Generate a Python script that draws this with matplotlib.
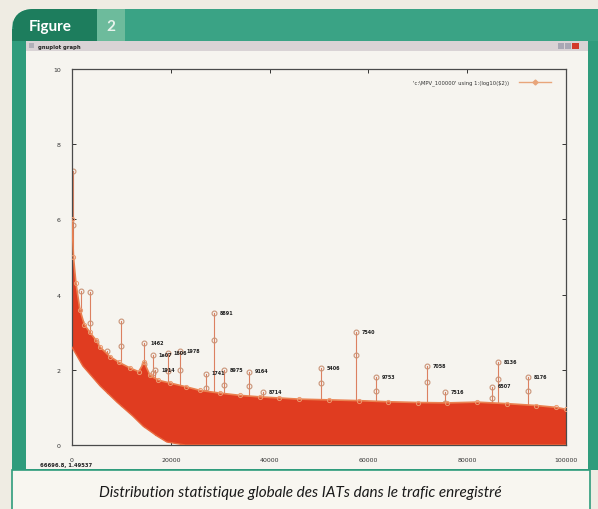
#!/usr/bin/env python

import matplotlib
matplotlib.use("Agg")
import matplotlib.pyplot as plt
from matplotlib.patches import Rectangle, FancyBboxPatch
import numpy as np

# dense band of IAT values (log10)
x_top = [0, 300, 800, 1600, 2500, 3600, 4800, 5700, 7700, 9500, 11700, 13500,
         14600, 15800, 17500, 19800, 23000, 26000, 30000, 34000, 38000, 42000,
         46000, 52000, 58000, 64000, 70000, 76000, 82000, 88000, 94000, 98000, 100000]
y_top = [6.0, 5.0, 4.3, 3.6, 3.2, 3.0, 2.8, 2.6, 2.35, 2.2, 2.05, 1.95,
         2.2, 1.85, 1.72, 1.65, 1.55, 1.45, 1.38, 1.32, 1.28, 1.25,
         1.22, 1.2, 1.18, 1.15, 1.13, 1.12, 1.14, 1.1, 1.05, 1.0, 0.95]
x_low = [0, 2200, 5700, 9100, 12300, 14400, 17200, 19200, 22900, 100000]
y_low = [2.6, 2.1, 1.57, 1.14, 0.77, 0.5, 0.24, 0.08, 0.0, 0.0]

# isolated peaks and their labels
spike_x = [200, 1800, 3600, 4850, 7100, 9900, 14600, 16400, 16900, 19400, 21900,
           27100, 28700, 30800, 35800, 38700, 50400, 57500, 61500, 71900, 75500,
           85000, 86200, 92300]
spike_y = [7.3, 4.1, 4.07, 2.74, 2.5, 3.3, 2.7, 2.4, 2.0, 2.45, 2.5,
           1.9, 3.5, 2.0, 1.95, 1.4, 2.05, 3.0, 1.8, 2.1, 1.4,
           1.55, 2.2, 1.8]
spike_lbl = ["", "", "", "", "", "", "1462", "1e07", "1914", "1606", "1978",
             "1741", "8891", "8975", "9164", "8714", "5406", "7540", "9753", "7058", "7516",
             "6507", "8136", "8176"]

xticks = [0, 20000, 40000, 60000, 80000, 100000]
yticks = [0, 2, 4, 6, 8, 10]

W, H = 598, 510
fig = plt.figure(figsize=(W / 100, H / 100), dpi=100)
fig.patch.set_facecolor("#efece3")

# page decoration in pixel coordinates
bg = fig.add_axes([0, 0, 1, 1])
bg.set_xlim(0, W)
bg.set_ylim(H, 0)
bg.axis("off")

green = "#2f9c7c"
bg.add_patch(FancyBboxPatch((12, 10), 620, 461, boxstyle="round,pad=0,rounding_size=22",
                            fc=green, ec="none"))
bg.add_patch(Rectangle((12, 30), 20, 441, fc=green, ec="none"))
bg.add_patch(FancyBboxPatch((12, 10), 110, 32, boxstyle="round,pad=0,rounding_size=22",
                            fc="#1d7d5d", ec="none"))
bg.add_patch(Rectangle((12, 30), 30, 12, fc="#1d7d5d", ec="none"))
bg.add_patch(Rectangle((97, 10), 28, 32, fc="#6dbb9c", ec="none"))
bg.add_patch(Rectangle((125, 10), 480, 32, fc="#3aa385", ec="none"))
bg.text(50, 27, "Figure", color="white", fontsize=11, ha="center", va="center",
        family="Lato", weight="bold")
bg.text(111, 27, "2", color="#e8f3ec", fontsize=11, ha="center", va="center",
        family="Lato", weight="bold")

# gnuplot window
bg.add_patch(Rectangle((26, 42), 562, 428, fc="#f6f4ef", ec="none"))
bg.add_patch(Rectangle((26, 42), 562, 10, fc="#d9d3d5", ec="none"))
bg.add_patch(Rectangle((29, 44), 5, 5, fc="#b0b0b8", ec="none"))
bg.text(38, 47, "gnuplot graph", fontsize=3.8, weight="bold", va="center", color="#222222")
bg.add_patch(Rectangle((558, 44), 6, 6, fc="#a8a8b4", ec="none"))
bg.add_patch(Rectangle((565, 44), 6, 6, fc="#a8a8b4", ec="none"))
bg.add_patch(Rectangle((572, 44), 7, 6, fc="#d23a2a", ec="none"))
bg.text(40, 466, "66696.8, 1.49537", fontsize=3.8, weight="bold", va="center", color="#222222")

# caption box
bg.add_patch(Rectangle((12, 471), 578, 45, fc="#f8f6f0", ec=green, lw=1.2))
bg.text(300, 493, "Distribution statistique globale des IATs dans le trafic enregistré",
        fontsize=11, style="italic", ha="center", va="center", family="Lato", color="#1a1a1a")

# data axes
ax = fig.add_axes([72 / W, 1 - 446 / H, 494 / W, 376 / H])
ax.set_facecolor("none")
ax.set_xlim(0, 100000)
ax.set_ylim(0, 10)

for sx, sy, lab in zip(spike_x, spike_y, spike_lbl):
    base = np.interp(sx, x_low, y_low)
    ax.plot([sx, sx], [base, sy], color="#dc8060", lw=0.8, zorder=1)
    ax.plot([sx, sx], [sy, sy * 0.8], ls="none", marker="o", ms=3.5,
            mfc="none", mec="#c99478", mew=0.8, zorder=1)
    if lab:
        ax.text(sx + 1200, sy + 0.02, lab, fontsize=3.5, weight="bold",
                va="center", color="#222222", zorder=4)

poly_x = np.concatenate([x_top, x_low[::-1]])
poly_y = np.concatenate([y_top, y_low[::-1]])
ax.fill(poly_x, poly_y, color="#e03c20", lw=0, zorder=2)
ax.plot(x_top, y_top, color="#ea8050", lw=1.2, marker="o", ms=3, mfc="none",
        mec="#eb9a70", mew=0.7, zorder=3)
ax.plot(x_low, y_low, color="#e86a40", lw=1.0, zorder=3)

ax.set_xticks(xticks)
ax.set_yticks(yticks)
ax.set_xticklabels([str(v) for v in xticks])
ax.set_yticklabels([str(v) for v in yticks])
ax.tick_params(direction="in", length=3, width=0.7, labelsize=4.5, colors="#333333",
               top=True, right=True, pad=9)
ax.tick_params(axis="y", pad=8)
for s in ax.spines.values():
    s.set_color("#4a4a4a")
    s.set_linewidth(0.9)

# legend, gnuplot style
ax.text(0.885, 0.965, "'c:\\MPV_100000' using 1:(log10($2))", transform=ax.transAxes,
        fontsize=3.8, ha="right", va="center", color="#333333")
ax.plot([0.905, 0.97], [0.965, 0.965], transform=ax.transAxes, color="#e8a57a", lw=1.0)
ax.plot([0.937], [0.965], transform=ax.transAxes, marker="D", ms=2.5, color="#e8a57a")

plt.savefig("out.png", dpi=100, facecolor=fig.get_facecolor())
